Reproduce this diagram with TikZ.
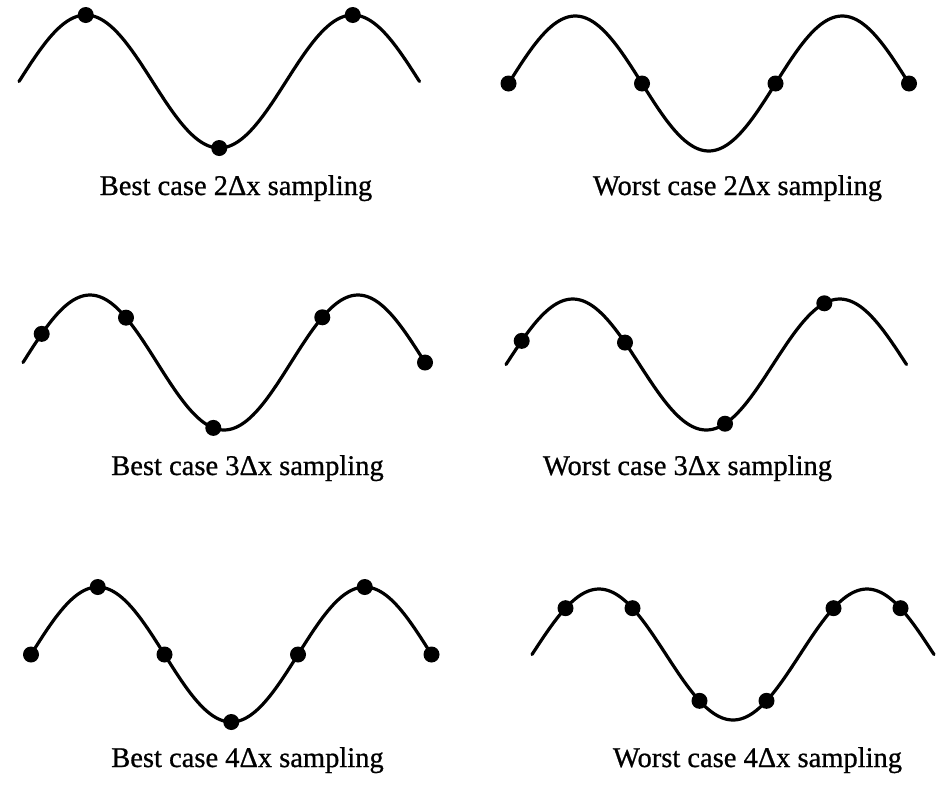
\documentclass[tikz,border=0pt]{standalone}
\usepackage{fontspec}
\setmainfont{Liberation Serif}[FakeBold=0.8]
\tikzset{
  wave/.style={line width=3.2pt, line cap=round, line join=round},
  sampledot/.style={fill=black},
  caption/.style={anchor=base, inner sep=0pt, font=\fontsize{28.5}{34}\selectfont},
}
% #1 x0, #2 period, #3 midline y, #4 amplitude, #5 end x
\newcommand{\wavecurve}[5]{%
  \draw[wave] plot[domain=#1:#5, samples=160] (\x, {#3 - #4*sin(((\x-#1)/#2)*360)});
}
% #1 x0, #2 period, #3 midline y, #4 amplitude, #5 sample x
\newcommand{\wavedot}[5]{%
  \fill[sampledot] (#5, {#3 - #4*sin(((#5-#1)/#2)*360)}) circle (8pt);
}
\begin{document}
\begin{tikzpicture}[x=1pt, y=-1pt]
\fill[white] (0,0) rectangle (949,785);
\useasboundingbox (0,0) rectangle (949,785);

% Panel 1: best case 2dx
\wavecurve{19}{267}{81.5}{66.5}{419.5}
\foreach \xd in {85.75, 219.25, 352.75} {\wavedot{19}{267}{81.5}{66.5}{\xd}}
\node[caption] (l1) at (236,195) {Best case 2Δx sampling};

% Panel 2: worst case 2dx
\wavecurve{508.5}{267}{83.5}{67.5}{909}
\foreach \xd in {508.5, 642, 775.5, 909} {\wavedot{508.5}{267}{83.5}{67.5}{\xd}}
\node[caption] (l2) at (737.5,195) {Worst case 2Δx sampling};

% Panel 3: best case 3dx
\wavecurve{23}{268}{362.5}{67.5}{425}
\foreach \xd in {41.7, 126, 213.3, 322.3, 425} {\wavedot{23}{268}{362.5}{67.5}{\xd}}
\node[caption] (l3) at (247.5,475) {Best case 3Δx sampling};

% Panel 4: worst case 3dx
\wavecurve{506}{267}{364.5}{65.5}{906.5}
\foreach \xd in {521.7, 625, 725, 824.3} {\wavedot{506}{267}{364.5}{65.5}{\xd}}
\node[caption] (l4) at (687.5,475) {Worst case 3Δx sampling};

% Panel 5: best case 4dx
\wavecurve{31}{267}{654.5}{67.5}{431.5}
\foreach \xd in {31, 97.75, 164.5, 231.25, 298, 364.75, 431.5} {\wavedot{31}{267}{654.5}{67.5}{\xd}}
\node[caption] (l5) at (247.5,767) {Best case 4Δx sampling};

% Panel 6: worst case 4dx
\wavecurve{532}{268}{654.5}{65.5}{934}
\foreach \xd in {565.5, 632.5, 699.5, 766.5, 833.5, 900.5} {\wavedot{532}{268}{654.5}{65.5}{\xd}}
\node[caption] (l6) at (757.5,767) {Worst case 4Δx sampling};
\end{tikzpicture}
\end{document}
